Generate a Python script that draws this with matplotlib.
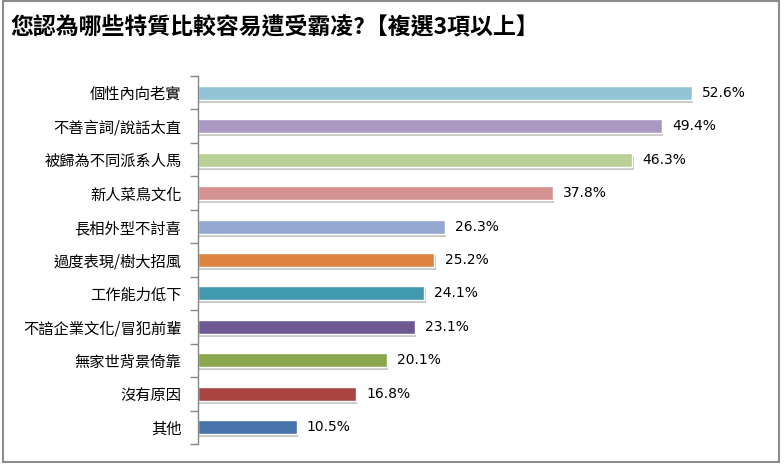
"""Horizontal bar chart: 您認為哪些特質比較容易遭受霸凌?"""

import matplotlib
matplotlib.use('Agg')
import matplotlib.pyplot as plt
from matplotlib.patches import Rectangle

plt.rcParams['font.family'] = ['Noto Sans CJK TC', 'DejaVu Sans']

title = '您認為哪些特質比較容易遭受霸凌?【複選3項以上】'

categories = [
    '個性內向老實',
    '不善言詞/說話太直',
    '被歸為不同派系人馬',
    '新人菜鳥文化',
    '長相外型不討喜',
    '過度表現/樹大招風',
    '工作能力低下',
    '不諳企業文化/冒犯前輩',
    '無家世背景倚靠',
    '沒有原因',
    '其他',
]
values = [52.6, 49.4, 46.3, 37.8, 26.3, 25.2, 24.1, 23.1, 20.1, 16.8, 10.5]
colors = [
    '#93C4D6', '#A898C2', '#B9D096', '#D49291', '#93A8D0', '#DD8440',
    '#4099AF', '#6E5892', '#8AA74E', '#A94644', '#4673A9',
]

fig = plt.figure(figsize=(7.84, 4.66), dpi=100)

# outer gray frame
fig.patches.append(Rectangle((3 / 784, 4 / 466), 776 / 784, 461 / 466,
                             transform=fig.transFigure, fill=False,
                             edgecolor='#8C8C8C', linewidth=1.5))

fig.text(10 / 784, 1 - 28 / 466, title, fontsize=16.5, fontweight='bold',
         va='center', ha='left', color='black')

ax = fig.add_axes([198 / 784, 22 / 466, 563 / 784, 368 / 466])
n = len(categories)
ypos = list(range(n))

# drop shadow under each bar
ax.barh([y + 0.09 for y in ypos], values, height=0.42, color='#C8C8C8',
        left=0.15, zorder=1)
ax.barh(ypos, values, height=0.42, color=colors, edgecolor='white',
        linewidth=1, zorder=2)

for y, v in zip(ypos, values):
    ax.text(v + 1.1, y, f'{v:.1f}%', va='center', ha='left', fontsize=10,
            family=['DejaVu Sans'], color='black')

ax.set_xlim(0, 60)
ax.set_ylim(n - 0.5, -0.5)
ax.set_yticks(ypos)
ax.set_yticklabels(categories, fontsize=11)
ax.set_yticks([i - 0.5 for i in range(n + 1)], minor=True)
ax.tick_params(axis='y', which='major', length=0, pad=12)
ax.tick_params(axis='y', which='minor', length=6, color='#868686', width=1)
ax.set_xticks([])
for side in ['top', 'right', 'bottom']:
    ax.spines[side].set_visible(False)
ax.spines['left'].set_color('#868686')
ax.spines['left'].set_linewidth(1)

fig.savefig('out.png', dpi=100, facecolor='white')
